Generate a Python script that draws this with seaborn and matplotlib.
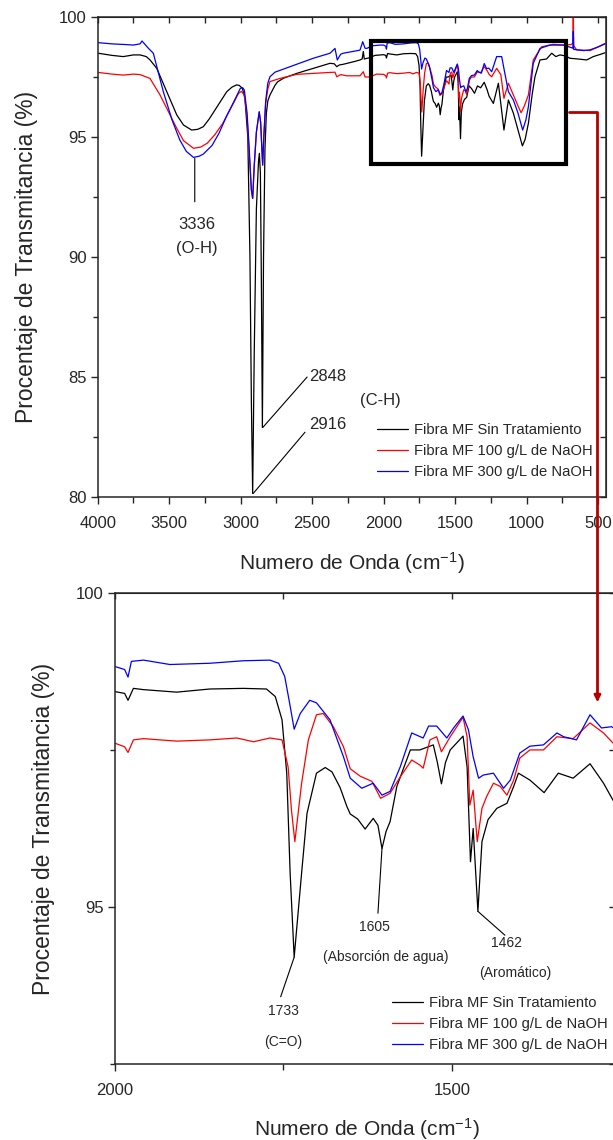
import numpy as np
import pandas as pd
import matplotlib
matplotlib.use("Agg")
import matplotlib.pyplot as plt
import seaborn as sns
from matplotlib.ticker import MultipleLocator
from matplotlib.patches import Rectangle, ConnectionPatch

etiquetas = ["Fibra MF Sin Tratamiento", "Fibra MF 100 g/L de NaOH", "Fibra MF 300 g/L de NaOH"]
colores = ["black", "#ff0000", "#0000ff"]

onda_sin = [3996, 3900, 3821, 3750, 3704, 3660, 3634, 3587, 3517, 3447, 3400, 3343, 3300, 3261, 3220,
            3179, 3140, 3097, 3060, 3029, 3010, 2988, 2970, 2950, 2935, 2925, 2916, 2905, 2890, 2875,
            2869, 2862, 2855, 2848, 2840, 2830, 2820, 2810, 2795, 2760, 2741, 2700, 2608, 2492, 2375,
            2345, 2328, 2310, 2282, 2200, 2165, 2150, 2142, 2135, 2100, 2060, 2025, 2000, 1985, 1980,
            1972, 1957, 1908, 1859, 1809, 1775, 1762, 1752, 1745, 1740, 1734, 1723, 1715, 1701, 1688,
            1678, 1666, 1656, 1651, 1640, 1629, 1617, 1610, 1604, 1598, 1592, 1582, 1562, 1548, 1528,
            1522, 1516, 1510, 1503, 1484, 1478, 1473, 1469, 1462, 1456, 1447, 1434, 1419, 1409, 1402,
            1385, 1364, 1343, 1321, 1296, 1276, 1262, 1232, 1197, 1158, 1127, 1105, 1092, 1060, 1029,
            1010, 987, 960, 941, 906, 860, 824, 795, 766, 730, 696, 640, 579, 533, 480, 451]
trans_sin = [98.49, 98.40, 98.35, 98.42, 98.42, 98.35, 98.21, 97.86, 96.89, 95.92, 95.50, 95.29, 95.32,
             95.43, 95.75, 96.13, 96.50, 96.89, 97.08, 97.17, 97.15, 97.03, 96.6, 95.0, 90.0, 84.0, 80.15,
             86.0, 92.0, 94.0, 94.32, 93.5, 89.0, 82.9, 90.0, 94.5, 96.0, 96.5, 96.75, 97.15, 97.30, 97.45,
             97.65, 97.86, 98.07, 98.05, 97.93, 98.0, 98.03, 98.15, 98.21, 98.25, 98.56, 98.25, 98.30,
             98.40, 98.42, 98.43, 98.40, 98.29, 98.48, 98.46, 98.42, 98.47, 98.48, 98.47, 98.35, 97.98,
             97.13, 95.54, 94.2, 95.54, 96.49, 97.13, 97.22, 97.15, 96.90, 96.60, 96.48, 96.40, 96.24,
             96.41, 96.3, 95.93, 96.2, 96.36, 96.92, 97.50, 97.50, 97.58, 97.3, 96.96, 97.3, 97.50, 97.72,
             97.23, 95.72, 96.25, 94.93, 96.04, 96.39, 96.57, 96.65, 96.92, 97.13, 97.02, 96.82, 97.13,
             97.05, 97.28, 96.97, 96.70, 96.40, 97.24, 95.29, 96.54, 96.2, 95.99, 95.3, 94.63, 94.9,
             95.57, 96.8, 97.51, 98.21, 98.25, 98.49, 98.35, 98.42, 98.38, 98.28, 98.25, 98.21, 98.35,
             98.45, 98.51]

onda_100 = [3996, 3900, 3821, 3750, 3704, 3634, 3564, 3494, 3453, 3400, 3330, 3280, 3234, 3180, 3125,
            3060, 3015, 2995, 2974, 2955, 2940, 2925, 2916, 2905, 2890, 2870, 2860, 2853, 2846, 2838,
            2825, 2810, 2795, 2725, 2608, 2492, 2375, 2340, 2328, 2300, 2258, 2165, 2142, 2130, 2095,
            2050, 2000, 1985, 1980, 1972, 1957, 1908, 1859, 1819, 1794, 1770, 1752, 1743, 1738, 1733,
            1723, 1713, 1701, 1691, 1676, 1661, 1651, 1636, 1619, 1606, 1592, 1577, 1560, 1548, 1543,
            1533, 1523, 1516, 1503, 1484, 1478, 1474, 1469, 1463, 1456, 1449, 1439, 1429, 1419, 1409,
            1400, 1385, 1365, 1345, 1321, 1296, 1276, 1262, 1244, 1209, 1180, 1158, 1127, 1092, 1060,
            1038, 1015, 987, 953, 894, 813, 743, 690, 676, 673, 670, 649, 556, 500, 451]
trans_100 = [97.69, 97.62, 97.58, 97.62, 97.60, 97.44, 96.75, 95.92, 95.43, 94.85, 94.53, 94.58, 94.74,
             95.1, 95.57, 96.3, 96.82, 96.9, 96.75, 95.8, 94.3, 92.8, 92.44, 93.8, 95.2, 96.05, 95.6,
             94.7, 93.83, 95.0, 96.4, 97.0, 97.31, 97.44, 97.61, 97.65, 97.69, 97.70, 97.51, 97.6, 97.55,
             97.55, 97.72, 97.5, 97.5, 97.62, 97.61, 97.55, 97.46, 97.66, 97.68, 97.64, 97.66, 97.69,
             97.63, 97.69, 97.66, 97.23, 96.54, 96.04, 96.97, 97.66, 98.06, 98.08, 97.87, 97.55, 97.20,
             97.08, 97.00, 96.73, 96.81, 97.07, 97.34, 97.26, 97.21, 97.66, 97.71, 97.47, 97.71, 98.02,
             97.71, 96.62, 96.86, 96.04, 96.57, 96.76, 96.97, 96.92, 96.78, 97.02, 97.37, 97.50, 97.50,
             97.71, 97.68, 97.93, 97.77, 97.61, 97.51, 97.86, 97.6, 96.61, 97.24, 96.75, 96.3, 96.01,
             96.3, 96.75, 98.21, 98.76, 98.86, 98.83, 98.85, 98.9, 100.5, 98.8, 98.63, 98.60, 98.75, 98.90]

onda_300 = [3996, 3900, 3800, 3751, 3704, 3690, 3646, 3611, 3541, 3480, 3426, 3380, 3330, 3290, 3261,
            3200, 3152, 3100, 3042, 3002, 2985, 2974, 2955, 2940, 2925, 2916, 2905, 2890, 2870, 2860,
            2853, 2846, 2838, 2825, 2810, 2795, 2760, 2608, 2492, 2375, 2340, 2324, 2300, 2282, 2200,
            2165, 2146, 2130, 2118, 2080, 2025, 2000, 1985, 1980, 1975, 1957, 1918, 1859, 1809, 1770,
            1757, 1748, 1740, 1734, 1725, 1711, 1701, 1681, 1661, 1651, 1634, 1617, 1604, 1592, 1577,
            1560, 1543, 1535, 1523, 1508, 1498, 1484, 1476, 1469, 1461, 1454, 1439, 1424, 1414, 1400,
            1385, 1365, 1345, 1335, 1316, 1296, 1279, 1264, 1244, 1209, 1174, 1150, 1127, 1092, 1060,
            1027, 1005, 987, 953, 906, 836, 743, 700, 676, 673, 670, 600, 556, 500, 451]
trans_300 = [98.93, 98.88, 98.85, 98.83, 98.88, 99.0, 98.70, 98.49, 96.89, 95.71, 94.88, 94.40, 94.15,
             94.20, 94.29, 94.65, 95.15, 95.85, 96.54, 97.03, 97.05, 96.95, 96.0, 94.5, 92.8, 92.44, 93.8,
             95.2, 96.05, 95.6, 94.7, 93.83, 95.0, 96.5, 97.24, 97.51, 97.70, 98.03, 98.28, 98.49, 98.69,
             98.21, 98.45, 98.49, 98.58, 98.62, 98.97, 98.7, 98.69, 98.80, 98.83, 98.83, 98.78, 98.66,
             98.91, 98.93, 98.86, 98.88, 98.92, 98.93, 98.88, 98.67, 98.2, 97.83, 98.08, 98.29, 98.25,
             97.98, 97.39, 97.05, 96.89, 96.97, 96.78, 96.84, 97.23, 97.77, 97.69, 97.88, 97.88, 97.69,
             97.85, 98.04, 97.82, 97.39, 97.05, 97.10, 97.13, 96.89, 97.02, 97.45, 97.56, 97.58, 97.77,
             97.71, 97.66, 98.06, 97.85, 97.87, 97.72, 98.35, 98.35, 97.6, 96.89, 96.54, 96.0, 95.29,
             95.7, 96.26, 98.07, 98.69, 98.83, 98.83, 98.75, 98.7, 99.4, 98.65, 98.60, 98.63, 98.75, 98.88]

df = pd.concat([
    pd.DataFrame({"onda": onda_sin, "T": trans_sin, "serie": etiquetas[0]}),
    pd.DataFrame({"onda": onda_100, "T": trans_100, "serie": etiquetas[1]}),
    pd.DataFrame({"onda": onda_300, "T": trans_300, "serie": etiquetas[2]}),
], ignore_index=True)

sns.set_style("ticks")
plt.rcParams["font.family"] = ["Liberation Sans", "DejaVu Sans"]
plt.rcParams["mathtext.fontset"] = "custom"
plt.rcParams["mathtext.rm"] = "Liberation Sans"
plt.rcParams["mathtext.it"] = "Liberation Sans"

fig = plt.figure(figsize=(6.13, 11.40), dpi=100)
ax1 = fig.add_axes([0.1594, 0.5640, 0.8292, 0.4211])
ax2 = fig.add_axes([0.1868, 0.0667, 0.8165, 0.4132])

paleta = dict(zip(etiquetas, colores))


def dibujar(ax, xlim, ylim, xmaj, xmin, ymaj, ymin):
    sns.lineplot(data=df, x="onda", y="T", hue="serie", palette=paleta, sort=False,
                 estimator=None, lw=0.9, legend=False, ax=ax)
    ax.set_xlim(*xlim)
    ax.set_ylim(*ylim)
    ax.xaxis.set_major_locator(MultipleLocator(xmaj))
    ax.xaxis.set_minor_locator(MultipleLocator(xmin))
    ax.yaxis.set_major_locator(MultipleLocator(ymaj))
    ax.yaxis.set_minor_locator(MultipleLocator(ymin))
    ax.tick_params(which="major", direction="out", length=5, width=1, labelsize=12, pad=9, axis="x")
    ax.tick_params(which="minor", direction="out", length=4, width=1, axis="x")
    ax.tick_params(which="major", direction="out", length=5, width=1, labelsize=12, pad=3, axis="y")
    ax.tick_params(which="minor", direction="out", length=3.5, width=1, axis="y")
    for s in ax.spines.values():
        s.set_visible(True)
        s.set_linewidth(1.1)
    top = ax.secondary_xaxis("top")
    top.xaxis.set_major_locator(MultipleLocator(xmaj))
    top.xaxis.set_minor_locator(MultipleLocator(xmin))
    top.tick_params(which="both", direction="in", length=4, width=1, labeltop=False)
    der = ax.secondary_yaxis("right")
    der.yaxis.set_major_locator(MultipleLocator(ymaj))
    der.yaxis.set_minor_locator(MultipleLocator(ymin))
    der.tick_params(which="both", direction="in", length=4, width=1, labelright=False)
    ax.set_xlabel("Numero de Onda (cm$^{-1}$)", fontsize=15)
    ax.set_ylabel("Procentaje de Transmitancia (%)", fontsize=16.5)
    ax.legend(ax.lines[:3], etiquetas, frameon=False, fontsize=10.6, handlelength=2.1,
              handletextpad=0.4, labelspacing=0.48, borderpad=0, loc="upper left")


dibujar(ax1, (4000, 444), (80, 100), 500, 250, 5, 2.5)
dibujar(ax2, (2000, 1259), (92.5, 100), 500, 250, 5, 2.5)

ax1.yaxis.set_label_coords(-0.117, 0.5)
ax2.yaxis.set_label_coords(-0.119, 0.5)
ax1.xaxis.set_label_coords(0.5, -0.11)
ax2.xaxis.set_label_coords(0.505, -0.11)

ax1.get_legend().set_bbox_to_anchor((370 / 613, 1 - 415.5 / 1140), transform=fig.transFigure)
ax2.get_legend().set_bbox_to_anchor((385 / 613, 1 - 989 / 1140), transform=fig.transFigure)

# ---- anotaciones panel superior ----
linea = dict(arrowstyle="-", lw=0.8, color="black", shrinkA=0, shrinkB=0)
ax1.annotate("", xy=(3321, 94.11), xytext=(3321, 92.30), arrowprops=linea)
ax1.text(3305, 91.37, "3336", ha="center", va="center", fontsize=12)
ax1.text(3310, 90.37, "(O-H)", ha="center", va="center", fontsize=12)
ax1.annotate("", xy=(2845, 82.9), xytext=(2535, 85.0), arrowprops=linea)
ax1.annotate("", xy=(2912, 80.15), xytext=(2550, 82.7), arrowprops=linea)
ax1.text(2521, 85.04, "2848", ha="left", va="center", fontsize=12)
ax1.text(2521, 83.04, "2916", ha="left", va="center", fontsize=12)
ax1.text(2023, 84.04, "(C-H)", ha="center", va="center", fontsize=12)
ax1.add_patch(Rectangle((724, 93.875), 2090 - 724, 99.0 - 93.875, fill=False, lw=3,
                        edgecolor="black", zorder=5))

# ---- anotaciones panel inferior ----
ax2.annotate("", xy=(1734, 94.2), xytext=(1754, 93.57), arrowprops=linea)
ax2.text(1750, 93.34, "1733", ha="center", va="center", fontsize=10)
ax2.text(1750, 92.85, "(C=O)", ha="center", va="center", fontsize=10)
ax2.annotate("", xy=(1604, 95.93), xytext=(1610, 94.90), arrowprops=linea)
ax2.text(1615, 94.68, "1605", ha="center", va="center", fontsize=10)
ax2.text(1598, 94.20, "(Absorción de agua)", ha="center", va="center", fontsize=10)
ax2.annotate("", xy=(1462, 94.93), xytext=(1422, 94.55), arrowprops=linea)
ax2.text(1419, 94.43, "1462", ha="center", va="center", fontsize=10)
ax2.text(1407, 93.95, "(Aromático)", ha="center", va="center", fontsize=10)

# ---- flecha que une el recuadro con la ampliacion ----
con = ConnectionPatch(xyA=(700, 96.04), coordsA=ax1.transData,
                      xyB=(1285, 98.26), coordsB=ax2.transData,
                      connectionstyle="angle,angleA=0,angleB=90,rad=0",
                      arrowstyle="-|>", mutation_scale=9, color="#b50000", lw=2, zorder=10)
fig.add_artist(con)

fig.savefig("out.png", dpi=100)
